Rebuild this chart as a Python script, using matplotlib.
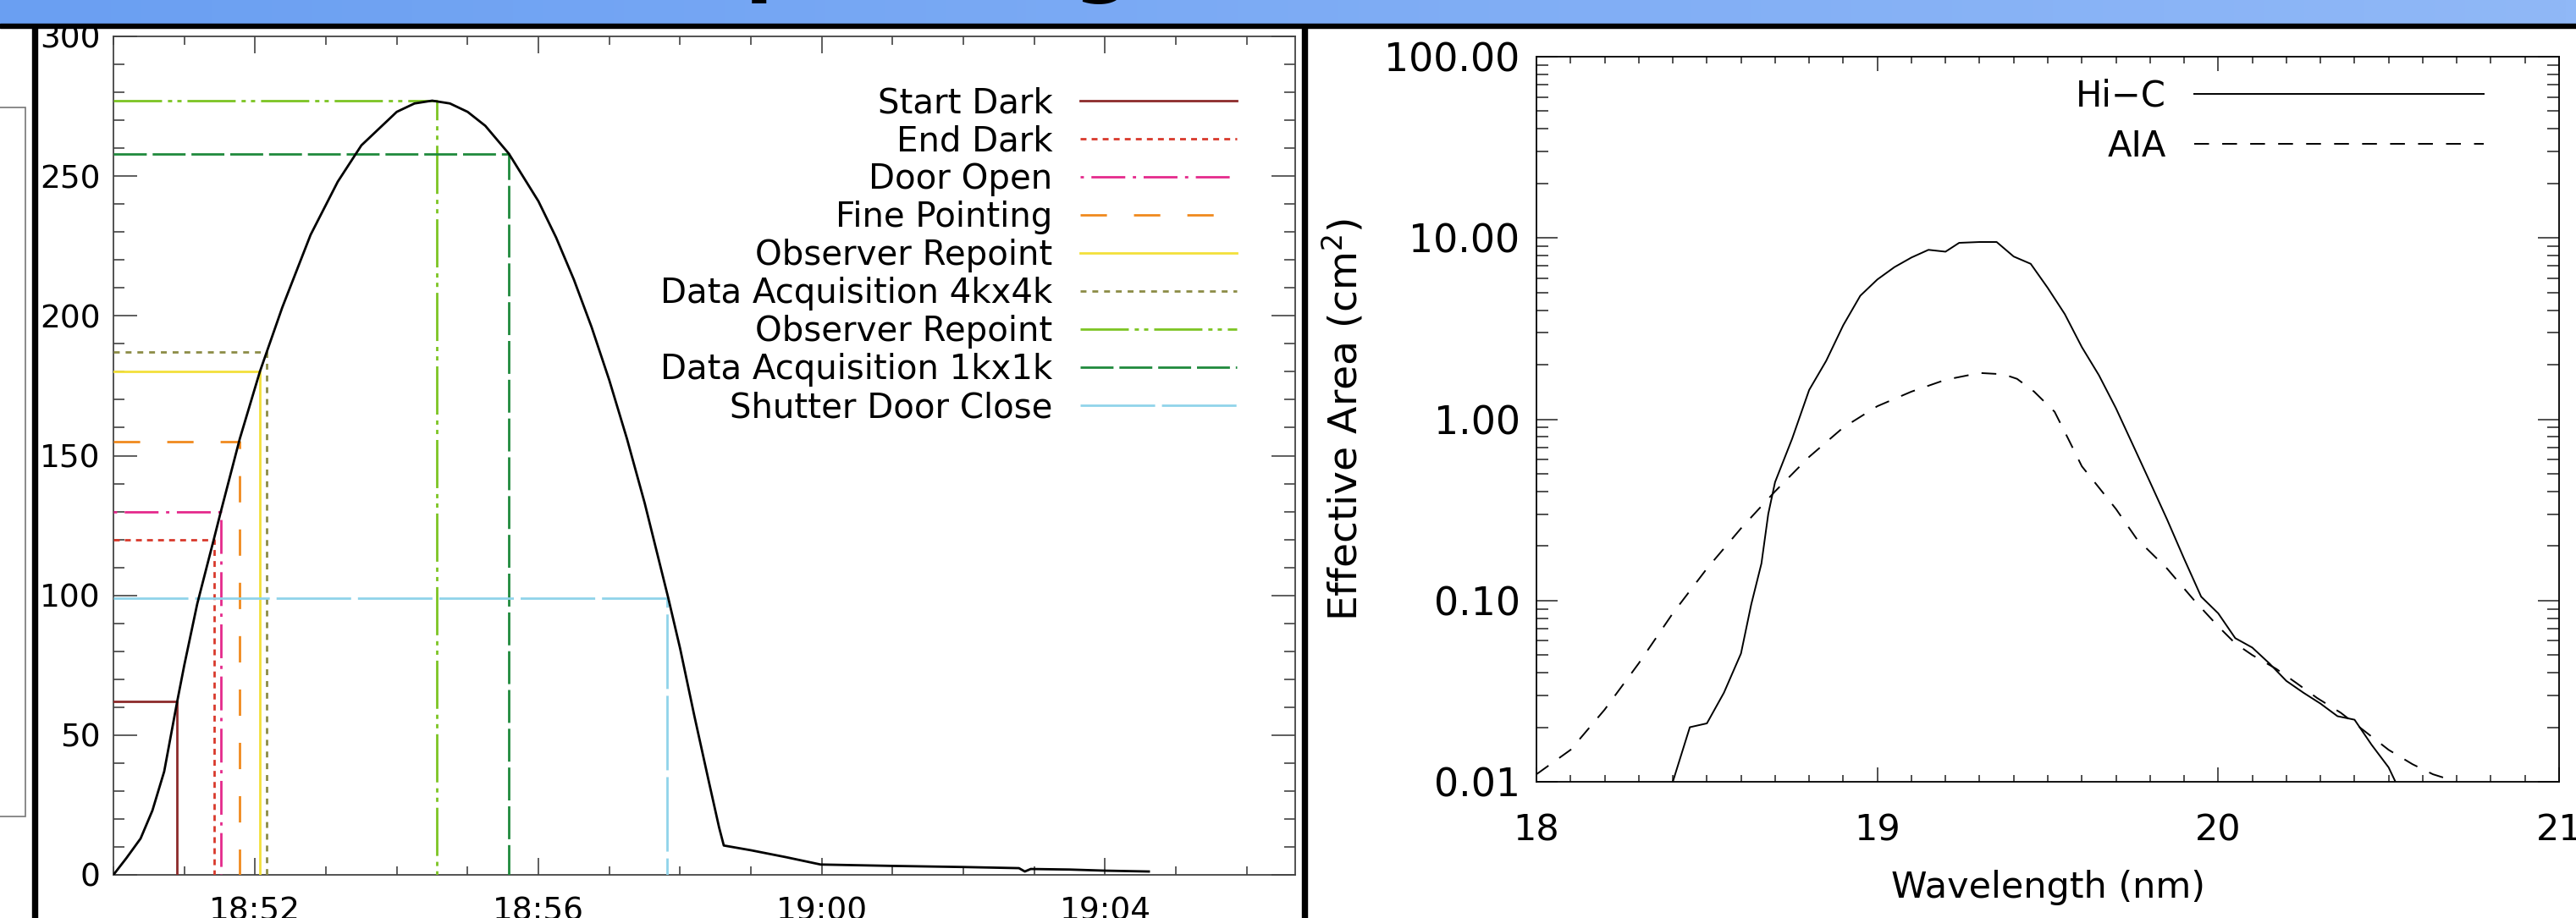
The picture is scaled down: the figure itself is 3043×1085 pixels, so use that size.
"""Flight timeline (altitude vs time) and Hi-C / AIA effective area strip"""

import numpy as np
import matplotlib
matplotlib.use('Agg')
import matplotlib.pyplot as plt
from matplotlib.patches import Rectangle
from matplotlib.colors import LinearSegmentedColormap
from matplotlib.ticker import MultipleLocator, FixedLocator, FuncFormatter, LogLocator, NullFormatter

W, H = 3043, 1085
DPI = 100
plt.rcParams['font.family'] = ['DejaVu Sans']

# ---- left panel: flight profile ----
flight_times = ['18:50:00', '18:50:11', '18:50:23', '18:50:33', '18:50:43', '18:50:54',
                '18:51:00', '18:51:11', '18:51:25', '18:51:31', '18:51:47', '18:52:04',
                '18:52:23', '18:52:47', '18:53:10', '18:53:30', '18:54:00', '18:54:15',
                '18:54:30', '18:54:45', '18:55:00', '18:55:15', '18:55:35', '18:56:00',
                '18:56:15', '18:56:30', '18:56:45', '18:57:00', '18:57:15', '18:57:30',
                '18:57:50', '18:58:00', '18:58:12', '18:58:24', '18:58:33', '18:58:37',
                '18:59:00', '18:59:30', '18:59:59', '19:01:00', '19:02:00', '19:02:47',
                '19:02:52', '19:02:57', '19:03:30', '19:04:00', '19:04:37']
flight_alt = [0, 6, 13, 23, 37, 62,
              75, 97, 120, 130, 156, 180,
              203, 229, 248, 261, 273, 276,
              277, 276, 273, 268, 258, 241,
              228, 213, 196, 177, 156, 133,
              99, 81, 57, 34, 17, 10.5,
              8.8, 6.3, 3.7, 3.2, 2.8, 2.4,
              1.2, 2.1, 1.9, 1.5, 1.2]

event_labels = ['Start Dark', 'End Dark', 'Door Open', 'Fine Pointing', 'Observer Repoint',
                'Data Acquisition 4kx4k', 'Observer Repoint', 'Data Acquisition 1kx1k',
                'Shutter Door Close']
event_times = ['18:50:54', '18:51:25', '18:51:31', '18:51:47', '18:52:04',
               '18:52:10', '18:54:34', '18:55:35', '18:57:49']
event_alt = [62, 120, 130, 155, 180, 187, 277, 258, 99]
event_colors = ['#8c2a2a', '#d8392b', '#e52a8c', '#f08a1e', '#f3e03a',
                '#8c8c46', '#7cc423', '#1f8a3c', '#90d4ea']
event_dashes = ['-', (0, (2.5, 2.2)), (0, (1.4, 3.2, 14.4, 3.2)), (0, (11.2, 11.5)), '-',
                (0, (2.5, 2.5)), (0, (20.5, 2.5, 1.8, 2.2, 1.8, 2.5)), (0, (14, 2.5)),
                (0, (31.7, 2.9))]

time_start, time_end = '18:50:00', '19:06:41'
time_ticks = ['18:52', '18:56', '19:00', '19:04']

# ---- right panel: effective area ----
hic_wave = [18.40, 18.45, 18.50, 18.55, 18.60, 18.63, 18.66, 18.68, 18.70, 18.75,
            18.80, 18.85, 18.90, 18.95, 19.00, 19.05, 19.10, 19.15, 19.20, 19.24,
            19.30, 19.35, 19.40, 19.45, 19.50, 19.55, 19.60, 19.65, 19.70, 19.75,
            19.80, 19.85, 19.90, 19.95, 20.00, 20.05, 20.10, 20.15, 20.20, 20.25,
            20.30, 20.35, 20.40, 20.45, 20.50, 20.52]
hic_area = [0.010, 0.020, 0.021, 0.031, 0.051, 0.095, 0.16, 0.30, 0.45, 0.78,
            1.45, 2.1, 3.3, 4.8, 5.9, 6.9, 7.8, 8.6, 8.4, 9.4,
            9.5, 9.5, 7.9, 7.2, 5.3, 3.8, 2.5, 1.75, 1.15, 0.72,
            0.45, 0.28, 0.17, 0.105, 0.085, 0.062, 0.055, 0.045, 0.036, 0.031,
            0.027, 0.023, 0.022, 0.016, 0.012, 0.010]

aia_wave = [18.00, 18.10, 18.20, 18.30, 18.40, 18.50, 18.60, 18.70, 18.80, 18.90,
            19.00, 19.10, 19.20, 19.30, 19.37, 19.41, 19.46, 19.52, 19.56, 19.60,
            19.65, 19.70, 19.76, 19.85, 19.93, 20.00, 20.05, 20.10, 20.17, 20.23,
            20.29, 20.36, 20.43, 20.50, 20.57, 20.63, 20.70]
aia_area = [0.011, 0.015, 0.025, 0.045, 0.085, 0.15, 0.25, 0.40, 0.62, 0.90,
            1.18, 1.42, 1.65, 1.80, 1.77, 1.67, 1.42, 1.10, 0.78, 0.55,
            0.42, 0.32, 0.22, 0.15, 0.10, 0.072, 0.058, 0.050, 0.042, 0.035,
            0.029, 0.024, 0.019, 0.015, 0.0125, 0.011, 0.010]

series_labels = ['Hi\u2212C', 'AIA']
title = 'Hi-C launch timeline and pointing'


def minutes(clock):
    """'hh:mm[:ss]' -> minutes after midnight"""
    parts = [float(p) for p in clock.split(':')]
    while len(parts) < 3:
        parts.append(0.0)
    return parts[0] * 60 + parts[1] + parts[2] / 60.0


def fx(px):
    return px / W


def fy(py):
    return 1 - py / H


def decorate(fig):
    """banner, rules and frame pieces of the poster"""
    bx = fig.add_axes([0, fy(28), 1, 28 / H])
    cmap = LinearSegmentedColormap.from_list('banner', ['#6a9ff2', '#90b8f7'])
    bx.imshow(np.linspace(0, 1, 256)[None, :], aspect='auto', cmap=cmap,
              extent=[0, 1, 0, 1])
    bx.axis('off')
    fig.patches.append(Rectangle((0, fy(33)), 1, 5 / H, transform=fig.transFigure,
                                 color='black', zorder=5))
    for left in (38, 1538):
        fig.patches.append(Rectangle((fx(left), 0), 6 / W, fy(33), transform=fig.transFigure,
                                     color='black', zorder=5))
    fig.patches.append(Rectangle((fx(-10), fy(965)), 40 / W, (965 - 127) / H,
                                 transform=fig.transFigure, fill=False,
                                 edgecolor='#777777', lw=1.2))

    # title sits mostly above the crop; only the descenders show
    renderer = fig.canvas.get_renderer()
    prefix = title[:title.index(' pointing')]
    probe = fig.text(0, 0, prefix + ' p', fontsize=70, fontweight='bold')
    w1 = probe.get_window_extent(renderer).width
    probe.remove()
    probe = fig.text(0, 0, 'p', fontsize=70, fontweight='bold')
    wp = probe.get_window_extent(renderer).width
    probe.remove()
    fig.text(fx(880 - (w1 - wp)), fy(-16), title, fontsize=70, fontweight='bold',
             va='baseline', ha='left', color='black', zorder=6)


def plot_flight(fig):
    ax = fig.add_axes([fx(134), fy(1034), (1530 - 134) / W, (1034 - 43) / H])
    t0, t1 = minutes(time_start), minutes(time_end)
    t = [minutes(s) for s in flight_times]
    ax.plot(t, flight_alt, color='black', lw=2.0, zorder=4)
    for lab, et, ev, col, ls in zip(event_labels, event_times, event_alt,
                                    event_colors, event_dashes):
        tm = minutes(et)
        ax.plot([t0, tm, tm], [ev, ev, 0], color=col, ls=ls, lw=2, label=lab, zorder=3)
    ax.set_xlim(t0, t1)
    ax.set_ylim(0, 300)
    ax.xaxis.set_major_locator(FixedLocator([minutes(s) for s in time_ticks]))
    ax.set_xticklabels(time_ticks)
    ax.xaxis.set_minor_locator(MultipleLocator(1))
    ax.yaxis.set_major_locator(MultipleLocator(50))
    ax.yaxis.set_minor_locator(MultipleLocator(10))
    ax.tick_params(which='both', direction='in', top=True, right=True,
                   labelsize=27, color='#333333', width=1.1)
    ax.tick_params(axis='x', which='major', length=14.5, pad=18)
    ax.tick_params(axis='x', which='minor', length=7)
    ax.tick_params(axis='y', which='major', length=20, pad=11)
    ax.tick_params(axis='y', which='minor', length=9.5)
    for sp in ax.spines.values():
        sp.set_color('#444444')
        sp.set_linewidth(1.3)
    ax.legend(loc='upper right', bbox_to_anchor=(fx(1461), fy(102)),
              bbox_transform=fig.transFigure, markerfirst=False, frameon=False,
              fontsize=29, handlelength=4.6, handletextpad=0.8, labelspacing=0.125,
              borderpad=0, borderaxespad=0)


def plot_area(fig):
    ax = fig.add_axes([fx(1815), fy(924), (3023 - 1815) / W, (924 - 67) / H])
    ax.plot(hic_wave, hic_area, color='black', lw=1.4, label=series_labels[0])
    ax.plot(aia_wave, aia_area, color='black', lw=1.4, ls=(0, (9, 8)),
            label=series_labels[1])
    ax.set_yscale('log')
    ax.set_xlim(18, 21)
    ax.set_ylim(0.01, 100)
    ax.xaxis.set_major_locator(MultipleLocator(1))
    ax.xaxis.set_minor_locator(MultipleLocator(0.1))
    ax.yaxis.set_major_locator(LogLocator(base=10))
    ax.yaxis.set_minor_locator(LogLocator(base=10, subs=np.arange(2, 10)))
    ax.yaxis.set_major_formatter(FuncFormatter(lambda v, pos: '%.2f' % v))
    ax.yaxis.set_minor_formatter(NullFormatter())
    ax.tick_params(which='both', direction='in', top=True, right=True,
                   color='#222222', width=1.1)
    ax.tick_params(axis='x', which='major', length=12, pad=26, labelsize=31)
    ax.tick_params(axis='x', which='minor', length=6)
    ax.tick_params(axis='y', which='major', length=18, pad=14, labelsize=33)
    ax.tick_params(axis='y', which='minor', length=10)
    for sp in ax.spines.values():
        sp.set_linewidth(1.3)
    ax.set_xlabel('Wavelength (nm)', fontsize=31, labelpad=19)
    ax.set_ylabel('Effective Area (cm$^{2}$)', fontsize=34, labelpad=16)
    ax.legend(loc='upper right', bbox_to_anchor=(fx(2934), fy(93)),
              bbox_transform=fig.transFigure, markerfirst=False, frameon=False,
              fontsize=30, handlelength=8.2, handletextpad=0.8, labelspacing=0.4,
              borderpad=0, borderaxespad=0)


if __name__ == "__main__":
    fig = plt.figure(figsize=(W / DPI, H / DPI), dpi=DPI, facecolor='white')
    decorate(fig)
    plot_flight(fig)
    plot_area(fig)
    fig.savefig('out.png', dpi=DPI, facecolor='white')
